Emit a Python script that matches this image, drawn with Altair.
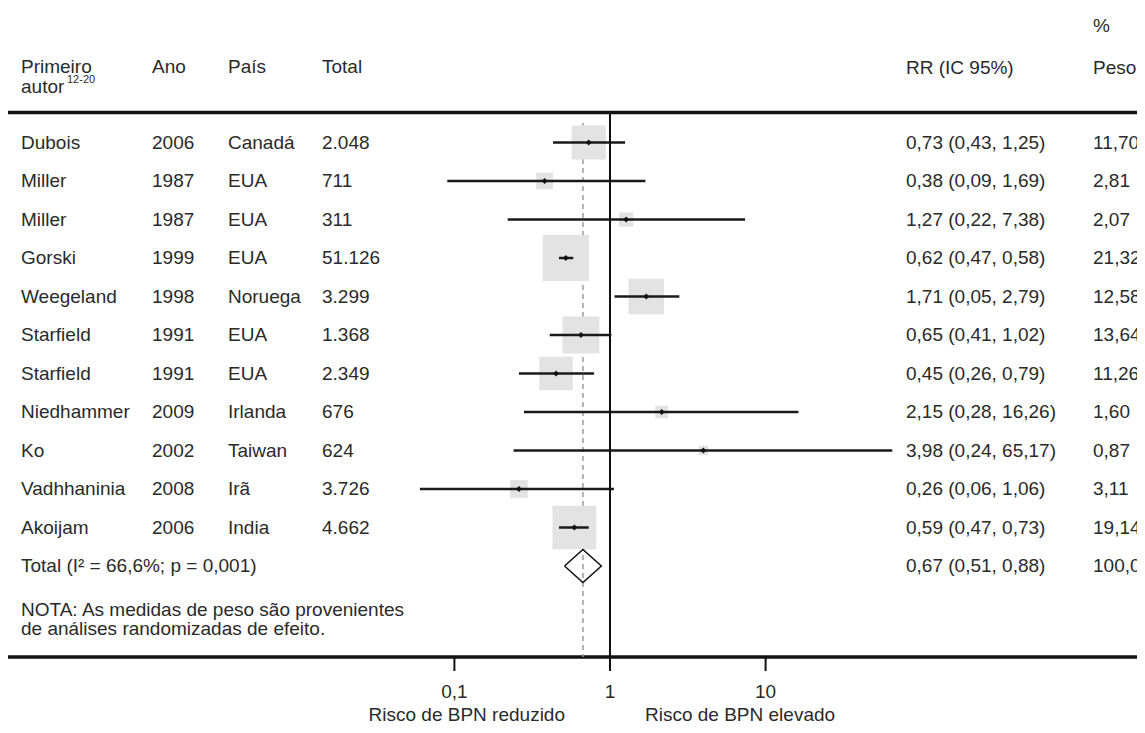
import altair as alt
import pandas as pd

# ---------------- data ----------------
authors = ["Dubois", "Miller", "Miller", "Gorski", "Weegeland", "Starfield",
           "Starfield", "Niedhammer", "Ko", "Vadhhaninia", "Akoijam"]
years = ["2006", "1987", "1987", "1999", "1998", "1991", "1991", "2009", "2002", "2008", "2006"]
countries = ["Canadá", "EUA", "EUA", "EUA", "Noruega", "EUA", "EUA", "Irlanda", "Taiwan", "Irã", "India"]
totals = ["2.048", "711", "311", "51.126", "3.299", "1.368", "2.349", "676", "624", "3.726", "4.662"]

# drawn values
rr = [0.73, 0.38, 1.27, 0.52, 1.71, 0.65, 0.45, 2.15, 3.98, 0.26, 0.59]
lo = [0.43, 0.09, 0.22, 0.47, 1.07, 0.41, 0.26, 0.28, 0.24, 0.06, 0.47]
hi = [1.25, 1.69, 7.38, 0.58, 2.79, 1.02, 0.79, 16.26, 65.17, 1.06, 0.73]
weights = [11.70, 2.81, 2.07, 21.32, 12.58, 13.64, 11.26, 1.60, 0.87, 3.11, 19.14]

# printed labels
rr_labels = ["0,73 (0,43, 1,25)", "0,38 (0,09, 1,69)", "1,27 (0,22, 7,38)", "0,62 (0,47, 0,58)",
             "1,71 (0,05, 2,79)", "0,65 (0,41, 1,02)", "0,45 (0,26, 0,79)", "2,15 (0,28, 16,26)",
             "3,98 (0,24, 65,17)", "0,26 (0,06, 1,06)", "0,59 (0,47, 0,73)"]
weight_labels = ["11,70", "2,81", "2,07", "21,32", "12,58", "13,64", "11,26", "1,60", "0,87", "3,11", "19,14"]

total_label = "Total (I² = 66,6%; p = 0,001)"
total_rr = 0.67
total_lo = 0.51
total_hi = 0.88
total_rr_label = "0,67 (0,51, 0,88)"
total_weight_label = "100,00"

tick_values = [0.1, 1, 10]
tick_labels = ["0,1", "1", "10"]

# ---------------- layout ----------------
W, H = 1129, 717
X1 = 602.0      # pixel of RR = 1
DEC = 155.6     # pixels per decade
Y0 = 134.5      # pixel of first row
PITCH = 38.5    # row pitch
FONT = "Liberation Sans"
FS = 19
TXT = "#2a2a2a"

n = len(authors)
df = pd.DataFrame(dict(row=list(range(n)), author=authors, year=years, country=countries,
                       total=totals, rr=rr, lo=lo, hi=hi, w=weights,
                       rr_label=rr_labels, w_label=weight_labels))
dft = pd.DataFrame(dict(row=[n], label=[total_label], rr=[total_rr], lo=[total_lo], hi=[total_hi],
                        rr_label=[total_rr_label], w_label=[total_weight_label]))

xs = alt.Scale(type="log", domain=[10 ** (-X1 / DEC), 10 ** ((W - X1) / DEC)], nice=False)
ys = alt.Scale(domain=[-Y0 / PITCH, (H - Y0) / PITCH], reverse=True, nice=False, zero=False)
Y = alt.Y("row:Q", scale=ys, axis=None)


def col_text(data, field, px, **kw):
    return alt.Chart(data).mark_text(align="left", baseline="middle", font=FONT,
                                     fontSize=FS, color=TXT, **kw).encode(
        x=alt.value(px), y=Y, text=f"{field}:N")


def label(txt, px, py, size=FS, align="left"):
    return alt.Chart(pd.DataFrame({"t": [txt]})).mark_text(
        align=align, baseline="middle", font=FONT, fontSize=size, color=TXT).encode(
        x=alt.value(px), y=alt.value(py), text="t:N")


layers = []

# header texts
layers += [
    label("Primeiro", 13, 59),
    label("autor", 13, 79),
    label("12-20", 59, 72, size=11),
    label("Ano", 144, 59),
    label("País", 220, 59),
    label("Total", 314, 59),
    label("RR (IC 95%)", 898, 60),
    label("%", 1085, 18),
    label("Peso", 1085, 60),
]

# horizontal rules
for py in (104.5, 649):
    layers.append(alt.Chart(pd.DataFrame({"a": [0]})).mark_rule(color="#111", strokeWidth=3.5).encode(
        x=alt.value(0), x2=alt.value(W), y=alt.value(py)))

# table columns
layers += [
    col_text(df, "author", 13),
    col_text(df, "year", 144),
    col_text(df, "country", 220),
    col_text(df, "total", 314),
    col_text(df, "rr_label", 898),
    col_text(df, "w_label", 1085),
    col_text(dft, "label", 13),
    col_text(dft, "rr_label", 898),
    col_text(dft, "w_label", 1085),
]

# dashed overall-effect line
layers.append(alt.Chart(dft).mark_rule(color="#9a9a9a", strokeWidth=1.5, strokeDash=[5, 4]).encode(
    x=alt.X("rr:Q", scale=xs, axis=None), y=alt.value(115), y2=alt.value(649)))

# weight squares
layers.append(alt.Chart(df).mark_square(color="#e3e3e3", opacity=1).encode(
    x=alt.X("rr:Q", scale=xs, axis=None), y=Y,
    size=alt.Size("w:Q", scale=alt.Scale(type="linear", domain=[0, 25], range=[0, 2500]), legend=None)))

# CI whiskers
layers.append(alt.Chart(df).mark_rule(color="#1a1a1a", strokeWidth=2.5).encode(
    x=alt.X("lo:Q", scale=xs, axis=None), x2="hi:Q", y=Y))

# point estimates
layers.append(alt.Chart(df).mark_point(shape="diamond", filled=True, color="#111", size=34, opacity=1).encode(
    x=alt.X("rr:Q", scale=xs, axis=None), y=Y))

# summary diamond
dd = pd.DataFrame({
    "x": [total_lo, total_rr, total_hi, total_rr, total_lo],
    "row": [n, n - 0.43, n, n + 0.43, n],
    "o": [0, 1, 2, 3, 4],
})
layers.append(alt.Chart(dd).mark_line(color="#111", strokeWidth=1.5).encode(
    x=alt.X("x:Q", scale=xs, axis=None), y=Y, order="o:Q"))

# null line at RR = 1
layers.append(alt.Chart(pd.DataFrame({"v": [1]})).mark_rule(color="#111", strokeWidth=2).encode(
    x=alt.X("v:Q", scale=xs, axis=None), y=alt.value(104.5), y2=alt.value(649)))

# axis ticks and labels
dticks = pd.DataFrame({"v": tick_values, "lab": tick_labels})
layers.append(alt.Chart(dticks).mark_rule(color="#111", strokeWidth=2).encode(
    x=alt.X("v:Q", scale=xs, axis=None), y=alt.value(649), y2=alt.value(663)))
layers.append(alt.Chart(dticks).mark_text(align="center", baseline="middle", font=FONT,
                                          fontSize=FS, color=TXT).encode(
    x=alt.X("v:Q", scale=xs, axis=None), y=alt.value(684), text="lab:N"))

# note and direction labels
layers += [
    label("NOTA: As medidas de peso são provenientes", 13, 602),
    label("de análises randomizadas de efeito.", 13, 621),
    label("Risco de BPN reduzido", 557, 707, align="right"),
    label("Risco de BPN elevado", 637, 707, align="left"),
]

chart = alt.layer(*layers).properties(
    width=W, height=H, autosize=alt.AutoSizeParams(type="none"), padding=0,
    background="white"
).configure_view(stroke=None)

chart.save("out.html", embed_options={"renderer": "svg", "actions": False})
